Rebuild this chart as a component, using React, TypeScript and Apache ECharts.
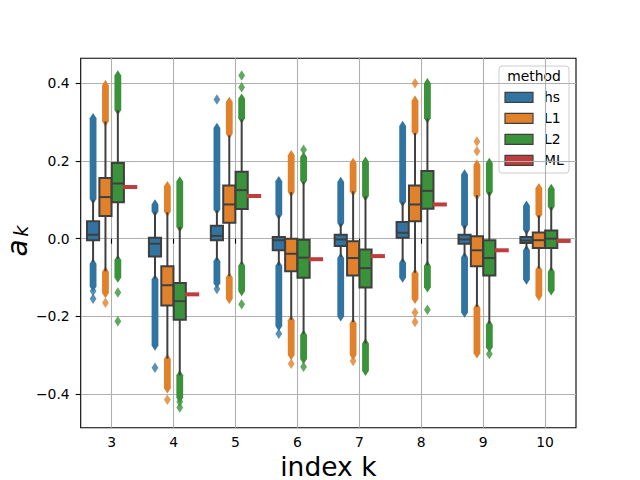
import React, { useEffect, useRef } from "react";
import * as echarts from "echarts";

const categories = [3, 4, 5, 6, 7, 8, 9, 10];
const methods = ["hs", "L1", "L2", "ML"];
const methodColors = ["#3274a1", "#e1812c", "#3a923a", "#c03d3e"];
const hueOffsets = [-0.3, -0.1, 0.1, 0.3];
const yTicks = [-0.4, -0.2, 0.0, 0.2, 0.4];

// [whiskerLow, q1, median, q3, whiskerHigh] per category
const hsBoxes = [
  [-0.060, -0.004, 0.010, 0.045, 0.100],
  [-0.103, -0.046, -0.013, 0.002, 0.068],
  [-0.056, -0.004, 0.007, 0.033, 0.073],
  [-0.069, -0.030, -0.004, 0.004, 0.060],
  [-0.047, -0.019, -0.002, 0.010, 0.039],
  [-0.060, 0.002, 0.015, 0.043, 0.094],
  [-0.046, -0.013, -0.002, 0.010, 0.034],
  [-0.028, -0.011, -0.005, 0.004, 0.021],
];
const l1Boxes = [
  [-0.084, 0.058, 0.107, 0.156, 0.302],
  [-0.309, -0.172, -0.120, -0.071, 0.068],
  [-0.097, 0.041, 0.088, 0.137, 0.266],
  [-0.209, -0.084, -0.039, 0.000, 0.120],
  [-0.215, -0.095, -0.050, -0.007, 0.122],
  [-0.088, 0.045, 0.088, 0.137, 0.272],
  [-0.176, -0.071, -0.030, 0.006, 0.112],
  [-0.077, -0.024, -0.004, 0.016, 0.060],
];
const l2Boxes = [
  [-0.052, 0.094, 0.142, 0.195, 0.331],
  [-0.352, -0.209, -0.161, -0.114, 0.030],
  [-0.066, 0.076, 0.125, 0.172, 0.307],
  [-0.245, -0.101, -0.049, -0.003, 0.146],
  [-0.270, -0.126, -0.076, -0.028, 0.109],
  [-0.069, 0.077, 0.123, 0.174, 0.309],
  [-0.219, -0.095, -0.050, -0.004, 0.120],
  [-0.082, -0.024, 0.000, 0.021, 0.081],
];
// ML estimate (single value per category)
const mlValues = [0.133, -0.1435, 0.110, -0.053, -0.045, 0.088, -0.030, -0.006];

// dense flier runs: [category, low, high]
const hsFlierBands = [
  [3, 0.102, 0.31], [3, -0.123, -0.065],
  [4, 0.070, 0.088], [4, -0.275, -0.105],
  [5, 0.075, 0.285], [5, -0.115, -0.058],
  [6, 0.062, 0.148], [6, -0.225, -0.070],
  [7, 0.040, 0.146], [7, -0.200, -0.050],
  [8, 0.095, 0.290], [8, -0.100, -0.062],
  [9, 0.036, 0.165], [9, -0.190, -0.048],
  [10, 0.023, 0.085], [10, -0.105, -0.030],
];
const l1FlierBands = [
  [3, 0.302, 0.395], [3, -0.140, -0.085],
  [4, 0.070, 0.135], [4, -0.385, -0.310],
  [5, 0.270, 0.352], [5, -0.155, -0.100],
  [6, 0.120, 0.215], [6, -0.300, -0.210],
  [7, 0.122, 0.195], [7, -0.300, -0.218],
  [8, 0.275, 0.355], [8, -0.155, -0.090],
  [9, 0.112, 0.190], [9, -0.295, -0.178],
  [10, 0.062, 0.130], [10, -0.147, -0.080],
];
const l2FlierBands = [
  [3, 0.331, 0.420], [3, -0.100, -0.055],
  [4, 0.030, 0.147], [4, -0.410, -0.352],
  [5, 0.310, 0.360], [5, -0.135, -0.070],
  [6, 0.150, 0.210], [6, -0.310, -0.248],
  [7, 0.110, 0.198], [7, -0.340, -0.270],
  [8, 0.310, 0.400], [8, -0.125, -0.070],
  [9, 0.120, 0.195], [9, -0.280, -0.222],
  [10, 0.083, 0.128], [10, -0.133, -0.085],
];
// isolated fliers: [category, value]
const hsFlierSingles = [[3, -0.135], [3, -0.155], [4, -0.3325], [5, 0.358], [5, -0.13], [6, -0.245]];
const l1FlierSingles = [[3, -0.165], [4, -0.415], [6, -0.322], [7, -0.315], [8, 0.40], [8, -0.19], [8, -0.215], [9, 0.225], [9, 0.25]];
const l2FlierSingles = [[3, -0.139], [3, -0.213], [4, -0.42], [4, -0.435], [5, 0.39], [5, 0.42], [5, -0.169], [6, 0.229], [6, -0.33], [8, -0.183], [9, -0.297]];

const EDGE = "#3f3f3f";
const FONT = "DejaVu Sans";
const BOX_W = 0.196;

export default function App() {
  const ref = useRef<HTMLDivElement>(null);
  useEffect(() => {
    if (!ref.current) return;
    const chart = echarts.init(ref.current, null, { renderer: "svg" });

    const boxSets = [hsBoxes, l1Boxes, l2Boxes];
    const bandSets = [hsFlierBands, l1FlierBands, l2FlierBands];
    const singleSets = [hsFlierSingles, l1FlierSingles, l2FlierSingles];

    const series: any[] = [];
    for (let m = 0; m < 3; m++) {
      const color = methodColors[m];
      const off = hueOffsets[m];
      series.push({
        type: "custom",
        name: methods[m] + "-bands",
        clip: false,
        encode: { x: 0, y: [1, 2] },
        data: bandSets[m].map((b) => [b[0] + off, b[1], b[2]]),
        renderItem: (params: any, api: any) => {
          const x = api.value(0);
          const pHi = api.coord([x, api.value(2)]);
          const pLo = api.coord([x, api.value(1)]);
          const cx = pHi[0];
          const hw = 3.4, hh = 5.25;
          return {
            type: "polygon",
            shape: {
              points: [
                [cx, pHi[1] - hh], [cx + hw, pHi[1]], [cx + hw, pLo[1]],
                [cx, pLo[1] + hh], [cx - hw, pLo[1]], [cx - hw, pHi[1]],
              ],
            },
            style: { fill: color },
          };
        },
      });
      series.push({
        type: "scatter",
        name: methods[m] + "-fliers",
        symbol: "diamond",
        symbolSize: [6.8, 10.5],
        itemStyle: { color },
        data: singleSets[m].map((s) => [s[0] + off, s[1]]),
      });
      series.push({
        type: "custom",
        name: methods[m],
        encode: { x: 0, y: [1, 2, 3, 4, 5] },
        data: boxSets[m].map((b, i) => [categories[i] + off, ...b]),
        renderItem: (params: any, api: any) => {
          const x = api.value(0);
          const pWl = api.coord([x, api.value(1)]);
          const pQ1 = api.coord([x, api.value(2)]);
          const pMed = api.coord([x, api.value(3)]);
          const pQ3 = api.coord([x, api.value(4)]);
          const pWh = api.coord([x, api.value(5)]);
          const hw = api.size([BOX_W, 0])[0] / 2;
          const cx = pQ1[0];
          const ls = { stroke: EDGE, lineWidth: 2 };
          return {
            type: "group",
            children: [
              { type: "line", shape: { x1: cx, y1: pWh[1], x2: cx, y2: pQ3[1] }, style: ls },
              { type: "line", shape: { x1: cx, y1: pQ1[1], x2: cx, y2: pWl[1] }, style: ls },
              {
                type: "rect",
                shape: { x: cx - hw, y: pQ3[1], width: 2 * hw, height: pQ1[1] - pQ3[1] },
                style: { fill: color, stroke: EDGE, lineWidth: 2 },
              },
              { type: "line", shape: { x1: cx - hw, y1: pMed[1], x2: cx + hw, y2: pMed[1] }, style: ls },
            ],
          };
        },
      });
    }
    series.push({
      type: "custom",
      name: "ML",
      encode: { x: 0, y: 1 },
      data: mlValues.map((v, i) => [categories[i] + hueOffsets[3], v]),
      renderItem: (params: any, api: any) => {
        const p = api.coord([api.value(0), api.value(1)]);
        const hw = api.size([BOX_W, 0])[0] / 2 + 1;
        return {
          type: "rect",
          shape: { x: p[0] - hw, y: p[1] - 2, width: 2 * hw, height: 4 },
          style: { fill: methodColors[3] },
        };
      },
    });

    const legendY = [97.3, 118.3, 139.3, 160.3];
    const legendChildren: any[] = [
      {
        type: "rect",
        shape: { x: 499, y: 66, width: 70, height: 107, r: 3 },
        style: { fill: "rgba(255,255,255,0.8)", stroke: "#cccccc", lineWidth: 1 },
      },
      {
        type: "text",
        x: 534, y: 76,
        style: { text: "method", fontSize: 13.9, fontFamily: FONT, fill: "#000", align: "center", verticalAlign: "middle" },
      },
    ];
    methods.forEach((m, i) => {
      legendChildren.push({
        type: "rect",
        shape: { x: 505, y: legendY[i] - 5, width: 28, height: 10 },
        style: { fill: methodColors[i], stroke: EDGE, lineWidth: 1.2 },
      });
      legendChildren.push({
        type: "text",
        x: 544, y: legendY[i],
        style: { text: m, fontSize: 13.9, fontFamily: FONT, fill: "#000", align: "left", verticalAlign: "middle" },
      });
    });

    const fmtY = (v: number) => v.toFixed(1).replace("-", "\u2212");

    chart.setOption({
      animation: false,
      backgroundColor: "#ffffff",
      grid: {
        left: 80.7, right: 64, top: 58.3, bottom: 52.3,
        show: true, borderColor: "#000", borderWidth: 1.1, backgroundColor: "transparent",
      },
      xAxis: {
        type: "value",
        min: 2.5,
        max: 10.5,
        axisLine: { show: false },
        axisTick: { show: true, customValues: categories, length: 5, lineStyle: { color: "#000", width: 1.1 } },
        axisLabel: {
          customValues: categories, margin: 7, fontSize: 13.9, lineHeight: 14, fontFamily: FONT, color: "#000",
        },
        splitLine: { show: true, lineStyle: { color: "#b0b0b0", width: 1.1 } },
      },
      yAxis: {
        type: "value",
        min: -0.4869,
        max: 0.4644,
        axisLine: { show: false },
        axisTick: { show: true, customValues: yTicks, length: 5, lineStyle: { color: "#000", width: 1.1 } },
        axisLabel: {
          customValues: yTicks, margin: 11, fontSize: 13.9, fontFamily: FONT, color: "#000", formatter: fmtY,
        },
        splitLine: { show: true, lineStyle: { color: "#b0b0b0", width: 1.1 } },
      },
      graphic: [
        { type: "group", z: 100, children: legendChildren },
        {
          type: "text", x: 328.4, y: 466,
          style: { text: "index k", fontSize: 26.5, lineHeight: 26, fontFamily: FONT, fill: "#000", align: "center", verticalAlign: "middle" },
        },
        {
          type: "text", x: 17, y: 248, rotation: Math.PI / 2,
          style: { text: "a", fontSize: 27.8, fontStyle: "italic", fontFamily: FONT, fill: "#000", align: "center", verticalAlign: "middle" },
        },
        {
          type: "text", x: 21, y: 231, rotation: Math.PI / 2,
          style: { text: "k", fontSize: 19.5, fontStyle: "italic", fontFamily: FONT, fill: "#000", align: "center", verticalAlign: "middle" },
        },
      ],
      series,
    });
    return () => chart.dispose();
  }, []);
  return <div ref={ref} style={{ position: "absolute", left: 0, top: 0, width: 640, height: 480 }} />;
}
